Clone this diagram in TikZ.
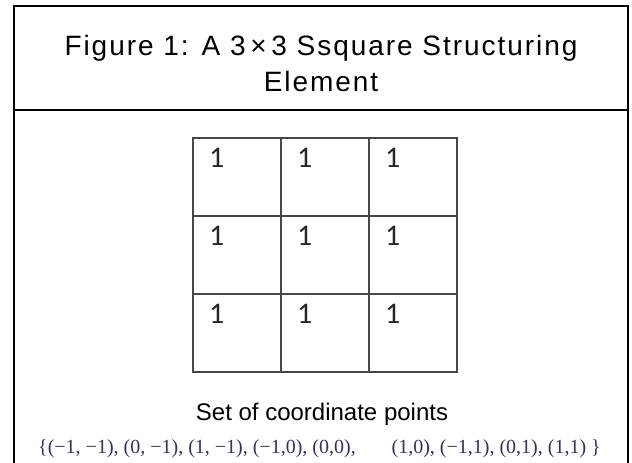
\documentclass[tikz,border=0pt]{standalone}
\usepackage{fontspec}
\setmainfont{Liberation Sans}
\newfontfamily\titlefont[LetterSpace=7]{Liberation Sans}
\newfontfamily\cellfont{Carlito}
\newfontfamily\setfont{Liberation Serif}
\usepackage{xcolor}
\usepackage{tikz}
\usetikzlibrary{positioning}
\definecolor{gridgray}{RGB}{70,70,70}
\definecolor{setink}{RGB}{52,50,92}

\begin{document}
\begin{tikzpicture}[x=1pt, y=-1pt,
  node distance=0pt,
  frame/.style={line width=2pt},
  titletext/.style={anchor=base, inner sep=0pt, font=\titlefont\fontsize{28}{36}\selectfont},
  cell/.style={draw=gridgray, line width=1.3pt, minimum width=88pt,
    minimum height=78pt, inner sep=0pt, outer sep=0pt},
  one/.style={anchor=north west, inner sep=0pt, text=black!85,
    font=\cellfont\fontsize{30}{30}\selectfont},
  settext/.style={inner sep=0pt, text=setink, font=\setfont\fontsize{20}{24}\selectfont}
]
\useasboundingbox (0,0) rectangle (632,463);
% outer frame and heading rule
\draw[frame] (14,463) -- (14,6) -- (628,6) -- (628,463);
\draw[frame] (14,110) -- (628,110);
\node[titletext] (title) at (321,55) {Figure 1: A 3\,×\,3 Ssquare Structuring};
\node[titletext] (title2) at (321,91) {Element};
% the 3x3 element
\node[cell, anchor=north west] (c11) at (193,138) {};
\node[cell, right=of c11] (c12) {};
\node[cell, right=of c12] (c13) {};
\node[cell, below=of c11] (c21) {};
\node[cell, right=of c21] (c22) {};
\node[cell, right=of c22] (c23) {};
\node[cell, below=of c21] (c31) {};
\node[cell, right=of c31] (c32) {};
\node[cell, right=of c32] (c33) {};
\foreach \c in {11,12,13,21,22,23,31,32,33}
  \node[one] (n\c) at ([shift={(16,10)}]c\c.north west) {1};
\node[anchor=base, inner sep=0pt, font=\fontsize{24}{28}\selectfont] (caption) at (322,420) {Set of coordinate points};
\node[settext, anchor=base west] (setleft) at (38,453) {\{(−1, −1), (0, −1), (1, −1), (−1,0), (0,0),};
\node[settext, anchor=base east] (setright) at (601,453) {(1,0), (−1,1), (0,1), (1,1)\ \}};
\end{tikzpicture}
\end{document}
